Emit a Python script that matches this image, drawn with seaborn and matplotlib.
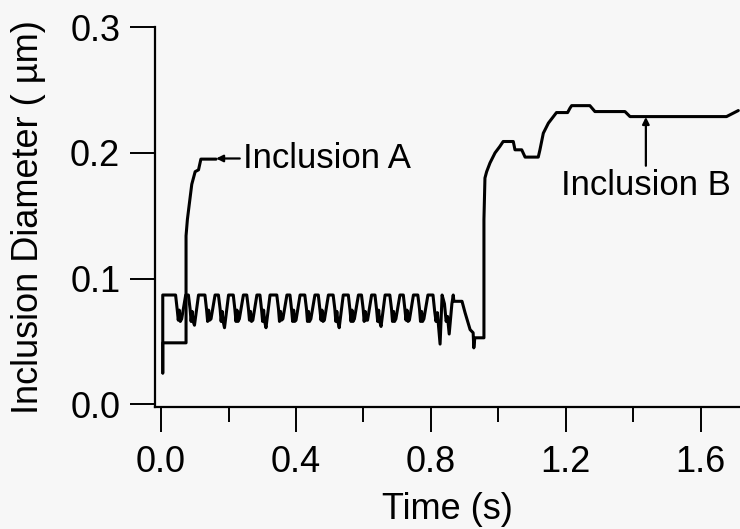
import seaborn as sns
import matplotlib.pyplot as plt
from matplotlib.ticker import FixedLocator
import pandas as pd

# Inclusion A: step rise near the start
time_a = [0.005, 0.005, 0.074, 0.074, 0.078, 0.084, 0.091, 0.101, 0.111, 0.118, 0.163]
diam_a = [0.025, 0.049, 0.049, 0.134, 0.147, 0.160, 0.175, 0.185, 0.1865, 0.195, 0.195]

# Inclusion B: oscillation, then growth and plateau
time_b = [
    0.005, 0.005,
    0.043, 0.048, 0.051, 0.054, 0.057, 0.061, 0.073,
    0.081, 0.086, 0.089, 0.092, 0.095, 0.099, 0.111,
    0.130, 0.135, 0.138, 0.141, 0.144, 0.148, 0.160,
    0.170, 0.175, 0.178, 0.181, 0.184, 0.188, 0.200,
    0.214, 0.219, 0.222, 0.225, 0.228, 0.232, 0.244,
    0.254, 0.259, 0.262, 0.265, 0.268, 0.272, 0.284,
    0.293, 0.298, 0.301, 0.304, 0.307, 0.311, 0.323,
    0.343, 0.348, 0.351, 0.354, 0.357, 0.361, 0.373,
    0.382, 0.387, 0.390, 0.393, 0.396, 0.400, 0.412,
    0.426, 0.431, 0.434, 0.437, 0.440, 0.444, 0.456,
    0.466, 0.471, 0.474, 0.477, 0.480, 0.484, 0.496,
    0.510, 0.515, 0.518, 0.521, 0.524, 0.528, 0.540,
    0.555, 0.560, 0.563, 0.566, 0.569, 0.573, 0.585,
    0.594, 0.599, 0.602, 0.605, 0.608, 0.612, 0.624,
    0.634, 0.639, 0.642, 0.645, 0.648, 0.652, 0.664,
    0.678, 0.683, 0.686, 0.689, 0.692, 0.696, 0.708,
    0.718, 0.723, 0.726, 0.729, 0.732, 0.736, 0.748,
    0.761, 0.766, 0.769, 0.772, 0.775, 0.779, 0.791,
    0.806, 0.811, 0.815, 0.819, 0.823, 0.827, 0.833,
    0.840, 0.845, 0.849, 0.854, 0.862, 0.866, 0.868, 0.892,
    0.901, 0.916, 0.925, 0.927, 0.930, 0.957, 0.957, 0.960, 0.965, 0.975,
    0.990, 1.004, 1.014, 1.044, 1.049, 1.069, 1.079, 1.118, 1.123, 1.133,
    1.148, 1.172, 1.205, 1.212, 1.217, 1.271, 1.286, 1.375, 1.390, 1.676, 1.711,
]
diam_b = [
    0.025, 0.087,
    0.087, 0.075, 0.067, 0.075, 0.066, 0.068, 0.087,
    0.087, 0.076, 0.066, 0.074, 0.066, 0.063, 0.087,
    0.087, 0.075, 0.066, 0.075, 0.067, 0.068, 0.087,
    0.087, 0.076, 0.066, 0.074, 0.066, 0.061, 0.087,
    0.087, 0.075, 0.066, 0.075, 0.066, 0.068, 0.087,
    0.087, 0.076, 0.067, 0.074, 0.066, 0.067, 0.087,
    0.087, 0.075, 0.066, 0.075, 0.066, 0.061, 0.087,
    0.087, 0.076, 0.066, 0.074, 0.067, 0.068, 0.087,
    0.087, 0.075, 0.066, 0.075, 0.066, 0.067, 0.087,
    0.087, 0.076, 0.066, 0.074, 0.066, 0.068, 0.087,
    0.087, 0.075, 0.067, 0.075, 0.066, 0.067, 0.087,
    0.087, 0.076, 0.066, 0.074, 0.066, 0.061, 0.087,
    0.087, 0.075, 0.066, 0.075, 0.066, 0.068, 0.087,
    0.087, 0.076, 0.066, 0.074, 0.067, 0.067, 0.087,
    0.087, 0.075, 0.066, 0.075, 0.066, 0.062, 0.087,
    0.087, 0.076, 0.066, 0.074, 0.066, 0.068, 0.087,
    0.087, 0.075, 0.067, 0.075, 0.066, 0.067, 0.087,
    0.087, 0.076, 0.066, 0.074, 0.066, 0.068, 0.087,
    0.087, 0.074, 0.066, 0.073, 0.060, 0.048, 0.087,
    0.080, 0.066, 0.070, 0.056, 0.080, 0.087, 0.082, 0.082,
    0.073, 0.0595, 0.057, 0.045, 0.053, 0.053, 0.147, 0.180, 0.185, 0.192,
    0.200, 0.205, 0.209, 0.209, 0.2024, 0.2024, 0.1966, 0.1966, 0.2024, 0.2156,
    0.2236, 0.232, 0.232, 0.2355, 0.2375, 0.2375, 0.2328, 0.2328, 0.2288, 0.2288, 0.2336,
]

df_a = pd.DataFrame({'time': time_a, 'diam': diam_a})
df_b = pd.DataFrame({'time': time_b, 'diam': diam_b})

sns.set_style('ticks')
plt.rcParams['font.family'] = ['Liberation Sans', 'DejaVu Sans']
plt.rcParams['text.color'] = 'black'
plt.rcParams['axes.labelcolor'] = 'black'
BG = '#f7f7f7'

fig = plt.figure(figsize=(7.4, 5.29), dpi=100, facecolor=BG)
ax = fig.add_axes([155 / 740, 122 / 529, 585 / 740, 380 / 529], facecolor=BG)

line_kw = dict(color='black', linewidth=2.2, estimator=None, sort=False, ax=ax)
sns.lineplot(data=df_a, x='time', y='diam', **line_kw)
sns.lineplot(data=df_b, x='time', y='diam', **line_kw)

ax.set_xlim(-0.018, 1.716)
ax.set_ylim(-0.002, 0.3)
ax.set_xticks([0, 0.4, 0.8, 1.2, 1.6])
ax.set_xticklabels(['0.0', '0.4', '0.8', '1.2', '1.6'])
ax.xaxis.set_minor_locator(FixedLocator([0.2, 0.6, 1.0, 1.4]))
ax.set_yticks([0, 0.1, 0.2, 0.3])
ax.set_yticklabels(['0.0', '0.1', '0.2', '0.3'])

sns.despine(ax=ax)
for side in ('left', 'bottom'):
    ax.spines[side].set_linewidth(1.6)
    ax.spines[side].set_color('black')
ax.tick_params(axis='both', which='major', length=18, width=1.4, color='black',
               labelsize=26, labelcolor='black')
ax.tick_params(axis='x', which='major', pad=9)
ax.tick_params(axis='y', which='major', pad=7)
ax.tick_params(axis='x', which='minor', length=11, width=1.4, color='black')

ax.set_xlabel('Time (s)', fontsize=26, labelpad=9)
ax.set_ylabel('Inclusion Diameter ( µm)', fontsize=26, labelpad=17)

arrow_kw = dict(arrowstyle='-|>', color='black', lw=1.6, mutation_scale=10,
                shrinkA=0, shrinkB=0)
ax.annotate('Inclusion A', xy=(0.163, 0.1955), xytext=(0.243, 0.1955),
            ha='left', va='center', fontsize=25, arrowprops=arrow_kw)
ax.annotate('Inclusion B', xy=(1.437, 0.2285), xytext=(1.437, 0.174),
            ha='center', va='center', fontsize=25, arrowprops=arrow_kw)

fig.savefig('out.png', dpi=100, facecolor=BG)
